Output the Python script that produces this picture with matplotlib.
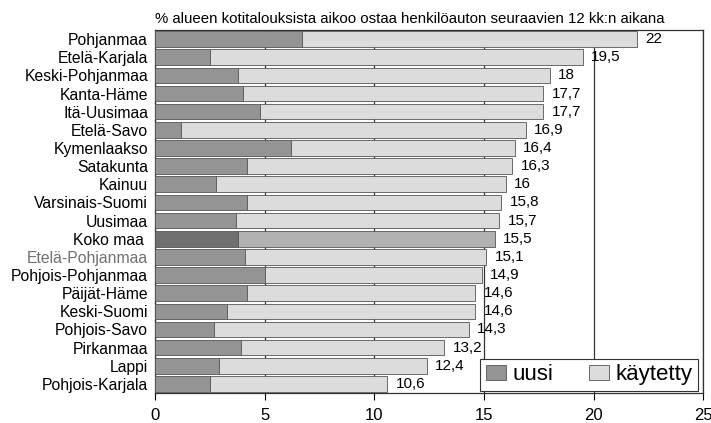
import matplotlib.pyplot as plt
import numpy as np

regions = ['Pohjanmaa', 'Etelä-Karjala', 'Keski-Pohjanmaa', 'Kanta-Häme', 'Itä-Uusimaa',
           'Etelä-Savo', 'Kymenlaakso', 'Satakunta', 'Kainuu', 'Varsinais-Suomi',
           'Uusimaa', 'Koko maa ', 'Etelä-Pohjanmaa', 'Pohjois-Pohjanmaa', 'Päijät-Häme',
           'Keski-Suomi', 'Pohjois-Savo', 'Pirkanmaa', 'Lappi', 'Pohjois-Karjala']
total = [22, 19.5, 18, 17.7, 17.7, 16.9, 16.4, 16.3, 16, 15.8,
         15.7, 15.5, 15.1, 14.9, 14.6, 14.6, 14.3, 13.2, 12.4, 10.6]
uusi = [6.7, 2.5, 3.8, 4.0, 4.8, 1.2, 6.2, 4.2, 2.8, 4.2,
        3.7, 3.8, 4.1, 5.0, 4.2, 3.3, 2.7, 3.9, 2.9, 2.5]
kaytetty = [t - u for t, u in zip(total, uusi)]

plt.rcParams['font.family'] = ['Liberation Sans', 'DejaVu Sans']

fig = plt.figure(figsize=(7.11, 4.23), dpi=100)
ax = fig.add_axes([0.218, 0.071, 0.771, 0.858])

y = np.arange(len(regions))
dark = ['#6f6f6f' if r.startswith('Koko') else '#949494' for r in regions]
light = ['#b2b2b2' if r.startswith('Koko') else '#dcdcdc' for r in regions]

ax.barh(y, uusi, height=0.86, color=dark, edgecolor='#555555', linewidth=0.6,
        label='uusi', zorder=3)
ax.barh(y, kaytetty, left=uusi, height=0.86, color=light, edgecolor='#555555',
        linewidth=0.6, label='käytetty', zorder=3)

for yi, t in zip(y, total):
    ax.annotate(f'{t:g}'.replace('.', ','), (t, yi), xytext=(6, 0),
                textcoords='offset points', va='center', ha='left', fontsize=11)

ax.set_xlim(0, 25)
ax.set_ylim(len(regions) - 0.5, -0.5)
ax.set_xticks([0, 5, 10, 15, 20, 25])
ax.set_yticks(y)
ax.set_yticklabels(regions, fontsize=11.3)
ax.tick_params(axis='y', length=0, pad=5)
ax.tick_params(axis='x', direction='out', length=5, labelsize=12, pad=6)
for lab in ax.get_yticklabels():
    if lab.get_text() == 'Etelä-Pohjanmaa':
        lab.set_color('#707070')

ax.grid(axis='x', color='#333333', linewidth=0.9, zorder=1)
ax.set_axisbelow(True)
for s in ax.spines.values():
    s.set_color('#333333')
    s.set_linewidth(0.9)

ax.set_title('% alueen kotitalouksista aikoo ostaa henkilöauton seuraavien 12 kk:n aikana',
             fontsize=10.8, loc='left', pad=5)

leg = ax.legend(loc='lower right', ncol=2, fontsize=16, frameon=True, fancybox=False,
                edgecolor='#333333', framealpha=1, handlelength=0.9, handleheight=0.7,
                handletextpad=0.3, columnspacing=1.6, borderaxespad=0.1,
                borderpad=0.25, bbox_to_anchor=(0.995, 0.0))
leg.get_frame().set_linewidth(0.8)
leg.set_zorder(5)

fig.savefig('out.png', dpi=100)
